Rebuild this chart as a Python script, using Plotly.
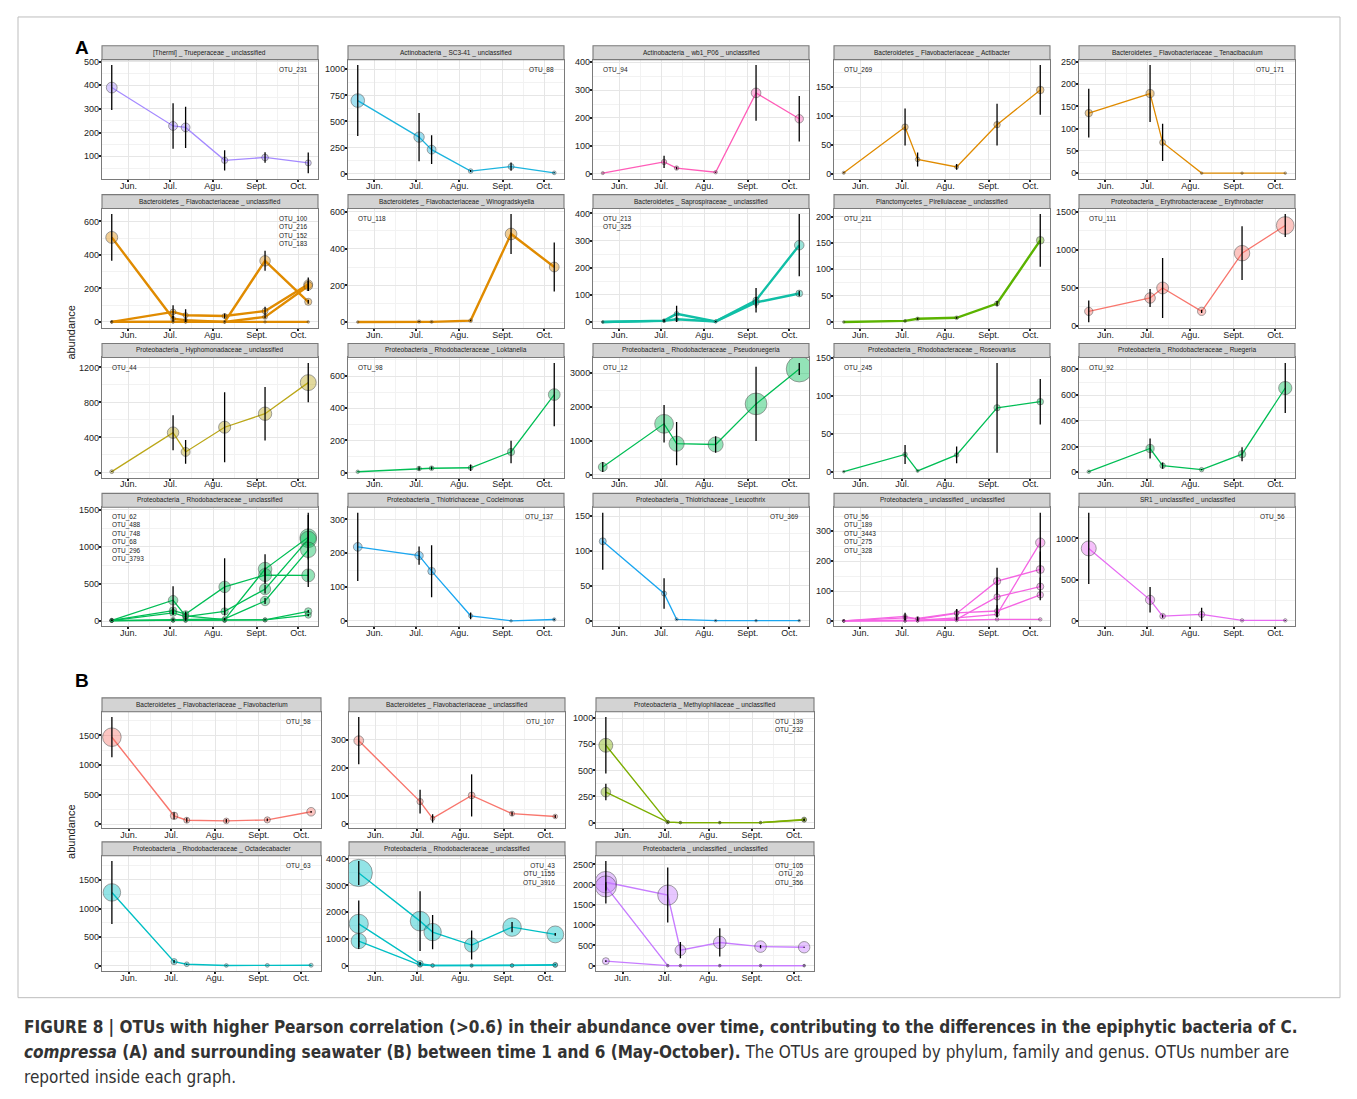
import math
import plotly.graph_objects as go

# ---------------- data ----------------
DATES = ["2015-05-20", "2015-07-03", "2015-07-12", "2015-08-09", "2015-09-07", "2015-10-08"]
MONTH_TICKS = ["2015-06-01", "2015-07-01", "2015-08-01", "2015-09-01", "2015-10-01"]
MONTH_LABELS = ["Jun.", "Jul.", "Agu.", "Sept.", "Oct."]
MID_MONTHS = ["2015-06-16", "2015-07-16", "2015-08-16", "2015-09-16"]
X_RANGE = ["2015-05-13", "2015-10-15"]

# Panel A (epiphytic)
thermi_231 = [390, 228, 222, 83, 95, 72]
thermi_231_err = [95, 96, 87, 43, 22, 44]
sc341_88 = [700, 350, 230, 25, 68, 8]
sc341_88_err = [340, 230, 137, 10, 40, 5]
wb1_94 = [2, 42, 20, 5, 290, 197]
wb1_94_err = [1, 22, 5, 2, 100, 82]
actibacter_269 = [2, 81, 25, 12, 85, 145]
actibacter_269_err = [1, 32, 12, 5, 36, 43]
tenaci_171 = [135, 179, 69, 0, 0, 0]
tenaci_171_err = [55, 64, 42, 0.5, 0.5, 0.5]

flavo_unc_100 = [505, 20, 10, 0, 365, 120]
flavo_unc_100_err = [140, 15, 10, 2, 60, 12]
flavo_unc_216 = [0, 60, 40, 35, 65, 225]
flavo_unc_216_err = [2, 40, 35, 15, 25, 40]
flavo_unc_152 = [0, 2, 2, 0, 30, 215]
flavo_unc_152_err = [1, 2, 2, 1, 10, 30]
flavo_unc_183 = [0, 0, 0, 0, 0, 0]
flavo_unc_183_err = [0.5, 0.5, 0.5, 0.5, 0.5, 0.5]
winogr_118 = [0, 3, 1, 8, 480, 300]
winogr_118_err = [1, 3, 2, 4, 109, 134]
sapro_213 = [0, 5, 30, 2, 80, 283]
sapro_213_err = [1, 4, 30, 2, 45, 115]
sapro_325 = [0, 4, 10, 2, 72, 105]
sapro_325_err = [1, 3, 5, 2, 20, 10]
pirell_211 = [0, 2, 6, 8, 35, 155]
pirell_211_err = [0.5, 1, 2, 2, 5, 50]
erythro_111 = [189, 365, 497, 189, 955, 1319]
erythro_111_err = [143, 117, 396, 20, 354, 152]

hypho_44 = [10, 455, 235, 517, 671, 1026]
hypho_44_err = [5, 200, 135, 400, 305, 225]
loktan_98 = [5, 25, 27, 30, 128, 485]
loktan_98_err = [2, 12, 10, 20, 70, 197]
pseudo_12 = [226, 1504, 915, 893, 2094, 3127]
pseudo_12_err = [150, 555, 640, 245, 1100, 180]
roseo_245 = [0, 22.7, 1, 22, 84, 92]
roseo_245_err = [0.5, 12.5, 0.5, 11, 59, 30]
rueger_92 = [5, 185, 52, 21, 141, 655]
rueger_92_err = [3, 78, 25, 5, 54, 195]

rhodo_unc_62 = [10, 280, 70, 20, 700, 1130]
rhodo_unc_62_err = [10, 190, 60, 10, 200, 300]
rhodo_unc_488 = [10, 140, 95, 460, 620, 615]
rhodo_unc_488_err = [5, 40, 20, 385, 100, 80]
rhodo_unc_748 = [5, 110, 60, 130, 430, 1100]
rhodo_unc_748_err = [5, 30, 30, 40, 60, 150]
rhodo_unc_68 = [5, 20, 30, 30, 270, 960]
rhodo_unc_68_err = [3, 10, 10, 10, 40, 500]
rhodo_unc_296 = [5, 10, 10, 5, 15, 130]
rhodo_unc_296_err = [3, 5, 5, 3, 5, 20]
rhodo_unc_3793 = [5, 5, 5, 5, 15, 80]
rhodo_unc_3793_err = [3, 3, 3, 3, 5, 15]
cocle_137 = [219, 193, 147, 15, 0, 4]
cocle_137_err = [101, 27, 77, 10, 0.5, 2]
leuco_369 = [114, 39, 2, 0, 0, 0]
leuco_369_err = [41, 22, 0.5, 0.5, 0.5, 0.5]
proteo_unc_56 = [0, 15, 5, 25, 133, 172]
proteo_unc_56_err = [0.5, 12, 5, 15, 45, 60]
proteo_unc_189 = [0, 0, 0, 5, 80, 115]
proteo_unc_189_err = [0.5, 0.5, 0.5, 3, 65, 30]
proteo_unc_3443 = [0, 10, 8, 27, 33, 87]
proteo_unc_3443_err = [0.5, 8, 6, 12, 20, 18]
proteo_unc_275 = [0, 0, 2, 10, 22, 262]
proteo_unc_275_err = [0.5, 0.5, 1, 5, 10, 100]
proteo_unc_328 = [0, 0, 0, 2, 5, 5]
proteo_unc_328_err = [0.5, 0.5, 0.5, 0.5, 0.5, 0.5]
sr1_56 = [879, 254, 56, 77, 5, 5]
sr1_56_err = [433, 155, 20, 80, 3, 5]

# Panel B (seawater)
flavobact_58 = [1471, 143, 68, 57, 74, 211]
flavobact_58_err = [340, 60, 40, 30, 25, 15]
flavo_sw_107 = [296, 79, 19, 101, 36, 26]
flavo_sw_107_err = [84, 42, 15, 75, 7, 5]
methylo_139 = [740, 5, 0, 0, 0, 25]
methylo_139_err = [270, 3, 0.5, 0.5, 0.5, 10]
methylo_232 = [292, 5, 0, 0, 0, 30]
methylo_232_err = [79, 3, 0.5, 0.5, 0.5, 10]
octade_63 = [1280, 75, 29, 8, 10, 12]
octade_63_err = [548, 30, 10, 3, 3, 3]
rhodo_sw_43 = [3466, 1665, 1255, 770, 1441, 1168]
rhodo_sw_43_err = [450, 1120, 640, 545, 190, 50]
rhodo_sw_1155 = [1565, 75, 5, 5, 5, 20]
rhodo_sw_1155_err = [870, 60, 3, 3, 3, 10]
rhodo_sw_3916 = [919, 20, 5, 0, 5, 30]
rhodo_sw_3916_err = [300, 10, 3, 0.5, 3, 10]
proteo_sw_105 = [2062, 1743, 382, 573, 470, 454]
proteo_sw_105_err = [525, 680, 200, 350, 40, 15]
proteo_sw_20 = [1958, 0, 0, 0, 0, 0]
proteo_sw_20_err = [100, 0.5, 0.5, 0.5, 0.5, 0.5]
proteo_sw_356 = [111, 0, 0, 0, 0, 0]
proteo_sw_356_err = [20, 0.5, 0.5, 0.5, 0.5, 0.5]

# ---------------- panel definitions ----------------
PURPLE = "#A58AFF"; CYAN = "#1CB4DE"; PINK = "#FF5CB8"; ORANGE = "#E08B00"
TEAL = "#10BFA6"; LGREEN = "#5BB300"; SALMON = "#F8766D"; OLIVE = "#BBA718"
GREEN = "#00BE55"; BLUE = "#1AA6F0"; MAGENTA = "#F564E3"; VIOLET = "#E76BF3"
OLIVEGREEN = "#7CAE00"; TEAL2 = "#00BFC4"; LAV = "#C77CFF"

PANELS_A = [
    ("[Thermi] _ Trueperaceae _ unclassified", ["OTU_231"], "r", PURPLE, 1.3, 100, [(thermi_231, thermi_231_err)]),
    ("Actinobacteria _ SC3-41 _ unclassified", ["OTU_88"], "r", CYAN, 1.3, 250, [(sc341_88, sc341_88_err)]),
    ("Actinobacteria _ wb1_P06 _ unclassified", ["OTU_94"], "l", PINK, 1.3, 100, [(wb1_94, wb1_94_err)]),
    ("Bacteroidetes _ Flavobacteriaceae _ Actibacter", ["OTU_269"], "l", ORANGE, 1.3, 50, [(actibacter_269, actibacter_269_err)]),
    ("Bacteroidetes _ Flavobacteriaceae _ Tenacibaculum", ["OTU_171"], "r", ORANGE, 1.3, 50, [(tenaci_171, tenaci_171_err)]),
    ("Bacteroidetes _ Flavobacteriaceae _ unclassified", ["OTU_100", "OTU_216", "OTU_152", "OTU_183"], "r", ORANGE, 2.4, 200,
     [(flavo_unc_100, flavo_unc_100_err), (flavo_unc_216, flavo_unc_216_err), (flavo_unc_152, flavo_unc_152_err), (flavo_unc_183, flavo_unc_183_err)]),
    ("Bacteroidetes _ Flavobacteriaceae _ Winogradskyella", ["OTU_118"], "l", ORANGE, 2.4, 200, [(winogr_118, winogr_118_err)]),
    ("Bacteroidetes _ Saprospiraceae _ unclassified", ["OTU_213", "OTU_325"], "l", TEAL, 2.4, 100, [(sapro_213, sapro_213_err), (sapro_325, sapro_325_err)]),
    ("Planctomycetes _ Pirellulaceae _ unclassified", ["OTU_211"], "l", LGREEN, 2.4, 50, [(pirell_211, pirell_211_err)]),
    ("Proteobacteria _ Erythrobacteraceae _ Erythrobacter", ["OTU_111"], "l", SALMON, 1.3, 500, [(erythro_111, erythro_111_err)]),
    ("Proteobacteria _ Hyphomonadaceae _ unclassified", ["OTU_44"], "l", OLIVE, 1.3, 400, [(hypho_44, hypho_44_err)]),
    ("Proteobacteria _ Rhodobacteraceae _ Loktanella", ["OTU_98"], "l", GREEN, 1.3, 200, [(loktan_98, loktan_98_err)]),
    ("Proteobacteria _ Rhodobacteraceae _ Pseudoruegeria", ["OTU_12"], "l", GREEN, 1.3, 1000, [(pseudo_12, pseudo_12_err)]),
    ("Proteobacteria _ Rhodobacteraceae _ Roseovarius", ["OTU_245"], "l", GREEN, 1.3, 50, [(roseo_245, roseo_245_err)]),
    ("Proteobacteria _ Rhodobacteraceae _ Ruegeria", ["OTU_92"], "l", GREEN, 1.3, 200, [(rueger_92, rueger_92_err)]),
    ("Proteobacteria _ Rhodobacteraceae _ unclassified", ["OTU_62", "OTU_488", "OTU_748", "OTU_68", "OTU_296", "OTU_3793"], "l", GREEN, 1.3, 500,
     [(rhodo_unc_62, rhodo_unc_62_err), (rhodo_unc_488, rhodo_unc_488_err), (rhodo_unc_748, rhodo_unc_748_err),
      (rhodo_unc_68, rhodo_unc_68_err), (rhodo_unc_296, rhodo_unc_296_err), (rhodo_unc_3793, rhodo_unc_3793_err)]),
    ("Proteobacteria _ Thiotrichaceae _ Cocleimonas", ["OTU_137"], "r", BLUE, 1.3, 100, [(cocle_137, cocle_137_err)]),
    ("Proteobacteria _ Thiotrichaceae _ Leucothrix", ["OTU_369"], "r", BLUE, 1.3, 50, [(leuco_369, leuco_369_err)]),
    ("Proteobacteria _ unclassified _ unclassified", ["OTU_56", "OTU_189", "OTU_3443", "OTU_275", "OTU_328"], "l", MAGENTA, 1.3, 100,
     [(proteo_unc_56, proteo_unc_56_err), (proteo_unc_189, proteo_unc_189_err), (proteo_unc_3443, proteo_unc_3443_err),
      (proteo_unc_275, proteo_unc_275_err), (proteo_unc_328, proteo_unc_328_err)]),
    ("SR1 _ unclassified _ unclassified", ["OTU_56"], "r", VIOLET, 1.3, 500, [(sr1_56, sr1_56_err)]),
]

PANELS_B = [
    ("Bacteroidetes _ Flavobacteriaceae _ Flavobacterium", ["OTU_58"], "r", SALMON, 1.4, 500, [(flavobact_58, flavobact_58_err)]),
    ("Bacteroidetes _ Flavobacteriaceae _ unclassified", ["OTU_107"], "r", SALMON, 1.4, 100, [(flavo_sw_107, flavo_sw_107_err)]),
    ("Proteobacteria _ Methylophilaceae _ unclassified", ["OTU_139", "OTU_232"], "r", OLIVEGREEN, 1.4, 250,
     [(methylo_139, methylo_139_err), (methylo_232, methylo_232_err)]),
    ("Proteobacteria _ Rhodobacteraceae _ Octadecabacter", ["OTU_63"], "r", TEAL2, 1.4, 500, [(octade_63, octade_63_err)]),
    ("Proteobacteria _ Rhodobacteraceae _ unclassified", ["OTU_43", "OTU_1155", "OTU_3916"], "r", TEAL2, 1.4, 1000,
     [(rhodo_sw_43, rhodo_sw_43_err), (rhodo_sw_1155, rhodo_sw_1155_err), (rhodo_sw_3916, rhodo_sw_3916_err)]),
    ("Proteobacteria _ unclassified _ unclassified", ["OTU_105", "OTU_20", "OTU_356"], "r", LAV, 1.4, 500,
     [(proteo_sw_105, proteo_sw_105_err), (proteo_sw_20, proteo_sw_20_err), (proteo_sw_356, proteo_sw_356_err)]),
]

# ---------------- geometry (pixels in the 1357x1099 window) ----------------
OFF = 8                      # default page body margin (on every side)
W, H = 1357 - 2 * OFF, 1099 - 2 * OFF
A_COLS = [(102, 318), (348, 564), (593, 809), (834, 1050), (1079, 1295)]
A_ROWS = [(55, 175), (205, 325), (355, 476), (506, 626)]
B_COLS = [(102, 321), (349, 565), (596, 814)]
B_ROWS = [(712, 829), (857, 973)]
STRIP_H = 14

boxes = []
for r in range(4):
    for c in range(5):
        boxes.append((A_COLS[c], A_ROWS[r]))
for r in range(2):
    for c in range(3):
        boxes.append((B_COLS[c], B_ROWS[r]))
panels = PANELS_A + PANELS_B


def fx(x):
    return (x - OFF) / W


def fy(y):
    return 1 - (y - OFF) / H


def rgba(hexc, a):
    hexc = hexc.lstrip("#")
    r, g, b = int(hexc[0:2], 16), int(hexc[2:4], 16), int(hexc[4:6], 16)
    return f"rgba({r},{g},{b},{a})"


FONT = "Liberation Sans, Arial, sans-serif"
fig = go.Figure()
layout = dict(width=W, height=H, margin=dict(l=0, r=0, t=0, b=0),
              paper_bgcolor="white", plot_bgcolor="white", showlegend=False,
              font=dict(family=FONT, color="#222"))
shapes = []
annotations = []

for i, ((title, otus, side, color, lw, step, series), ((xl, xr), (yt, yb))) in enumerate(zip(panels, boxes), start=1):
    xa = "x" if i == 1 else f"x{i}"
    ya = "y" if i == 1 else f"y{i}"
    xk = "xaxis" if i == 1 else f"xaxis{i}"
    yk = "yaxis" if i == 1 else f"yaxis{i}"

    lo = min(v - e for vals, errs in series for v, e in zip(vals, errs))
    hi = max(v + e for vals, errs in series for v, e in zip(vals, errs))
    pad = 0.05 * (hi - lo)

    for vals, errs in series:
        sizes = [2.5 + 0.42 * math.sqrt(max(v, 0)) for v in vals]
        fig.add_trace(go.Scatter(
            x=DATES, y=vals, xaxis=xa, yaxis=ya, mode="lines+markers",
            line=dict(color=color, width=lw),
            marker=dict(size=sizes, color=rgba(color, 0.6),
                        line=dict(color="rgba(60,60,60,0.85)", width=0.8)),
            hoverinfo="skip"))
    for vals, errs in series:
        fig.add_trace(go.Scatter(
            x=DATES, y=vals, xaxis=xa, yaxis=ya, mode="markers",
            marker=dict(size=2, color="rgba(0,0,0,0)"),
            error_y=dict(type="data", array=errs, visible=True, color="black",
                         thickness=1.3, width=0),
            hoverinfo="skip"))

    layout[xk] = dict(
        domain=[fx(xl), fx(xr)], anchor=ya, type="date", range=X_RANGE,
        tickmode="array", tickvals=MONTH_TICKS, ticktext=MONTH_LABELS,
        showgrid=True, gridcolor="#E6E6E6", gridwidth=1,
        minor=dict(tickmode="array", tickvals=MID_MONTHS, showgrid=True,
                   gridcolor="#F2F2F2", gridwidth=0.8, ticks=""),
        showline=True, mirror=True, linecolor="#7A7A7A", linewidth=1.1,
        ticks="outside", ticklen=2, tickwidth=1.8, tickcolor="#222", ticklabelstandoff=-4,
        tickfont=dict(size=9, color="#222", family=FONT), zeroline=False, fixedrange=True)
    layout[yk] = dict(
        domain=[fy(yb), fy(yt)], anchor=xa, range=[lo - pad, hi + pad],
        tickmode="linear", tick0=0, dtick=step,
        showgrid=True, gridcolor="#E6E6E6", gridwidth=1,
        minor=dict(dtick=step / 2, showgrid=True, gridcolor="#F2F2F2", gridwidth=0.8, ticks=""),
        showline=True, mirror=True, linecolor="#7A7A7A", linewidth=1.1,
        ticks="outside", ticklen=2, tickwidth=1.8, tickcolor="#222", ticklabelstandoff=-2,
        tickfont=dict(size=9, color="#222", family=FONT), zeroline=False, fixedrange=True)

    # strip header
    shapes.append(dict(type="rect", xref="paper", yref="paper",
                       x0=fx(xl), x1=fx(xr), y0=fy(yt), y1=fy(yt - STRIP_H),
                       fillcolor="#D3D3D3", line=dict(color="#7A7A7A", width=1.1), layer="above"))
    annotations.append(dict(xref="paper", yref="paper", x=fx((xl + xr) / 2), y=fy(yt - STRIP_H / 2),
                            text=title, showarrow=False, xanchor="center", yanchor="middle",
                            font=dict(size=6.5, color="#1A1A1A", family=FONT)))
    # OTU labels
    annotations.append(dict(xref=f"{xa} domain", yref=f"{ya} domain",
                            x=0.035 if side == "l" else 0.965, y=0.965,
                            xanchor="left" if side == "l" else "right", yanchor="top",
                            align="left" if side == "l" else "right",
                            text="<br>".join(otus), showarrow=False,
                            font=dict(size=6.5, color="#222", family=FONT)))

# panel letters, y titles
annotations.append(dict(xref="paper", yref="paper", x=fx(73), y=fy(30), text="<b>A</b>", showarrow=False,
                        font=dict(size=19, color="black", family=FONT)))
annotations.append(dict(xref="paper", yref="paper", x=fx(73), y=fy(680), text="<b>B</b>", showarrow=False,
                        font=dict(size=19, color="black", family=FONT)))
annotations.append(dict(xref="paper", yref="paper", x=fx(71), y=fy(330), text="abundance", textangle=-90,
                        showarrow=False, xanchor="center", yanchor="middle",
                        font=dict(size=11, color="#222", family=FONT)))
annotations.append(dict(xref="paper", yref="paper", x=fx(71), y=fy(833), text="abundance", textangle=-90,
                        showarrow=False, xanchor="center", yanchor="middle",
                        font=dict(size=11, color="#222", family=FONT)))

# frame
shapes.append(dict(type="rect", xref="paper", yref="paper", x0=fx(18), x1=fx(1340), y0=fy(1000), y1=fy(12),
                   line=dict(color="#BDBDBD", width=1), fillcolor="rgba(0,0,0,0)", layer="below"))

# caption
CAP_FONT = "Liberation Sans Narrow, Arial Narrow, DejaVu Sans Condensed, Liberation Sans, sans-serif"
caption_lines = [
    "<b>FIGURE 8 | OTUs with higher Pearson correlation (>0.6) in their abundance over time, contributing to the differences in the epiphytic bacteria of C.</b>",
    "<b><i>compressa</i> (A) and surrounding seawater (B) between time 1 and 6 (May-October).</b> The OTUs are grouped by phylum, family and genus. OTUs number are",
    "reported inside each graph.",
]
for k, line in enumerate(caption_lines):
    annotations.append(dict(xref="paper", yref="paper", x=fx(22), y=fy(1030 + 25 * k), text=line,
                            showarrow=False, xanchor="left", yanchor="middle",
                            font=dict(size=17, color="#333", family=CAP_FONT)))

layout["shapes"] = shapes
layout["annotations"] = annotations
fig.update_layout(**layout)
fig.write_html("out.html")
